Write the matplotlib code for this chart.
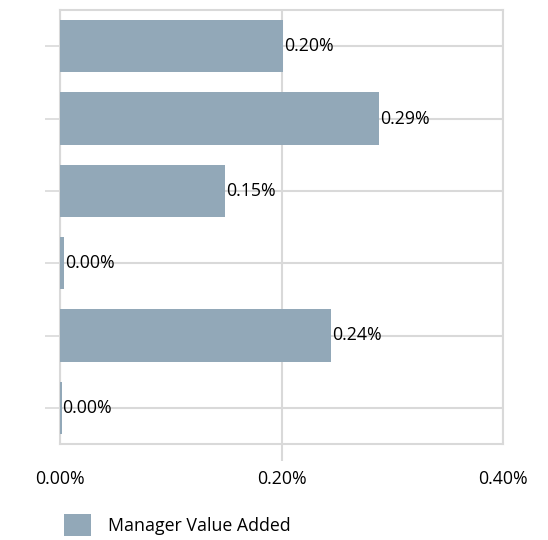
import matplotlib
matplotlib.use("Agg")
import matplotlib.pyplot as plt
from matplotlib.patches import Patch

categories = ["A", "B", "C", "D", "E", "F"]
values = [0.2016, 0.288, 0.149, 0.0036, 0.2447, 0.0015]  # percent
labels = ["0.20%", "0.29%", "0.15%", "0.00%", "0.24%", "0.00%"]
xticks = [0.0, 0.2, 0.4]
xticklabels = ["0.00%", "0.20%", "0.40%"]
series_name = "Manager Value Added"

bar_color = "#92A8B8"
grid_color = "#D9D9D9"
plt.rcParams['font.family'] = ['Open Sans', 'DejaVu Sans']
FS = 12.8

fig = plt.figure(figsize=(5.48, 5.40), dpi=100)
ax = fig.add_axes([60/548, 1-444/540, 443/548, 434/540])

ypos = list(range(len(categories)))
ax.barh(ypos, values, height=0.72, color=bar_color, zorder=3)
for y, v, l in zip(ypos, values, labels):
    ax.text(v + 0.0008, y, l, va='center', ha='left', fontsize=FS, color='black', zorder=4)

ax.set_xlim(0, 0.4)
ax.set_ylim(5.5, -0.5)
ax.set_yticks(ypos)
ax.set_yticklabels([""] * len(ypos))
ax.set_xticks(xticks)
ax.set_xticklabels(xticklabels, fontsize=FS)
ax.grid(True, color=grid_color, linewidth=1.5, zorder=0)
ax.set_axisbelow(True)
for s in ax.spines.values():
    s.set_color(grid_color)
    s.set_linewidth(1.5)
ax.tick_params(axis='y', length=11, width=1.2, color=grid_color, left=True)
ax.tick_params(axis='x', length=12, width=1.5, color=grid_color, pad=7)
xt = ax.xaxis.get_major_ticks()
xt[0].tick1line.set_visible(False)
xt[-1].tick1line.set_visible(False)

handle = Patch(facecolor=bar_color, edgecolor='none')
fig.legend([handle], [series_name], loc='center left', bbox_to_anchor=(48/548, 1-525/540),
           frameon=False, fontsize=FS, handlelength=1.5, handleheight=1.5, handletextpad=1.0)

fig.savefig("out.png", dpi=100)
